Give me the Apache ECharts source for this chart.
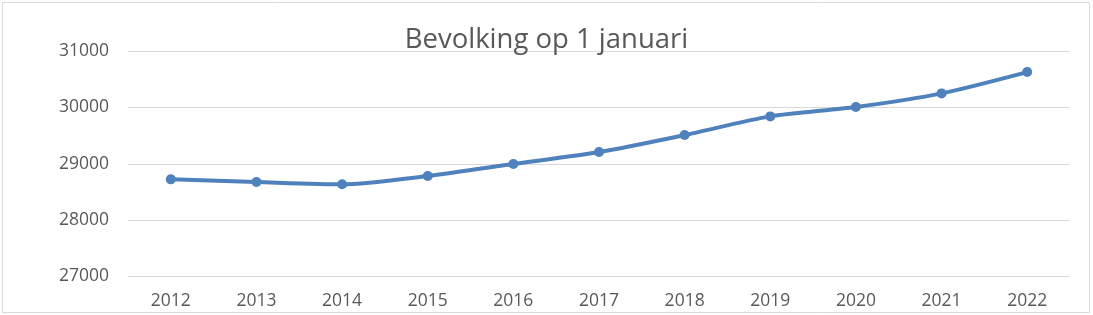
<!DOCTYPE html>
<html><head><meta charset="utf-8">
<script src="https://cdn.jsdelivr.net/npm/echarts@6/dist/echarts.min.js"></script>
<style>html,body{margin:0;padding:0;background:#fff}#c{width:1093px;height:315px}</style>
</head><body><div id="c"></div>
<script>
const categories = ['2012','2013','2014','2015','2016','2017','2018','2019','2020','2021','2022'];
const population = [28723, 28676, 28635, 28782, 28995, 29207, 29509, 29840, 30007, 30248, 30626];
const yTicks = [27000, 28000, 29000, 30000, 31000];

const chart = echarts.init(document.getElementById('c'));
chart.setOption({
  animation: false,
  title: {
    text: 'Bevolking op 1 januari', left: 'center', top: 21,
    textStyle: {fontFamily: 'Open Sans', fontSize: 27.5, fontWeight: 'normal', color: '#595959'}
  },
  graphic: [{type: 'rect', shape: {x: 2.5, y: 2.5, width: 1087, height: 310},
    style: {fill: 'none', stroke: '#d9d9d9', lineWidth: 1}, silent: true}],
  grid: {left: 128, right: 23, top: 51, bottom: 38.5},
  xAxis: {
    type: 'category', data: categories, boundaryGap: true,
    axisLine: {show: false}, axisTick: {show: false},
    axisLabel: {color: '#595959', fontFamily: 'Open Sans', fontSize: 17.5, margin: 16}
  },
  yAxis: {
    type: 'value', min: yTicks[0], max: yTicks[yTicks.length - 1], interval: 1000,
    axisLine: {show: false}, axisTick: {show: false},
    splitLine: {lineStyle: {color: '#d9d9d9', width: 1}},
    axisLabel: {color: '#595959', fontFamily: 'Open Sans', fontSize: 17.5, margin: 19,
      formatter: v => String(v)}
  },
  series: [{
    type: 'line', data: population, smooth: 0.25,
    symbol: 'circle', symbolSize: 10,
    lineStyle: {color: '#4f81bd', width: 4},
    itemStyle: {color: '#4f81bd'}
  }]
});
</script></body></html>
